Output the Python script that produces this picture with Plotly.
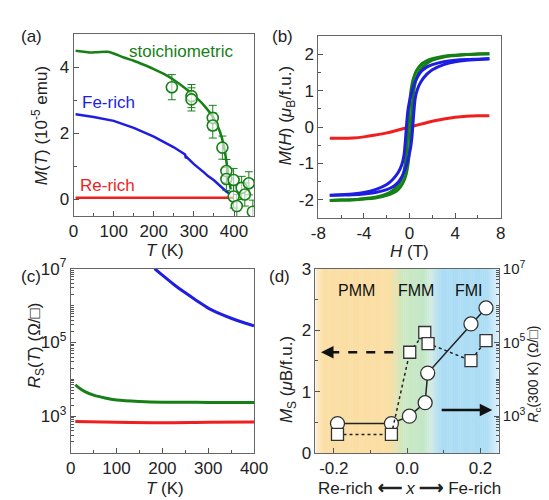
import plotly.graph_objects as go

F = "Liberation Sans, Arial, sans-serif"
W, H = 549, 500
GREEN = "rgb(22,128,22)"
BLUE = "rgb(30,30,225)"
RED = "rgb(240,30,30)"

# ---------------- Panel (a): M(T) ----------------
a_stoi_T = [5, 20, 40, 60, 85, 100, 125, 150, 175, 200, 225, 250, 275, 300, 325, 350, 365, 375, 383, 388, 392]
a_stoi_M = [4.5, 4.48, 4.45, 4.46, 4.47, 4.42, 4.3, 4.2, 4.08, 3.95, 3.8, 3.62, 3.4, 3.15, 2.85, 2.45, 2.05, 1.6, 1.0, 0.55, 0.3]
a_fe_T = [5, 50, 100, 150, 200, 250, 278, 280, 282, 300, 325, 336, 350, 368, 380, 390]
a_fe_M = [2.58, 2.5, 2.38, 2.17, 1.9, 1.58, 1.36, 1.25, 1.28, 1.07, 0.82, 0.7, 0.58, 0.38, 0.25, 0.17]
a_re_T = [5, 100, 200, 300, 400]
a_re_M = [0.05, 0.05, 0.05, 0.05, 0.05]
a_pts_T = [245, 294, 294, 347, 347, 371, 381, 381, 399, 399, 407, 419, 427, 437, 447]
a_pts_M = [3.40, 3.13, 3.03, 2.47, 2.24, 1.57, 0.86, 0.62, 0.59, 0.09, -0.2, 0.35, 0.15, 0.49, -0.37]
a_pts_err = [0.38, 0.35, 0.35, 0.38, 0.38, 0.35, 0.35, 0.35, 0.35, 0.35, 0.35, 0.35, 0.35, 0.35, 0.35]

# ---------------- Panel (b): M(H) ----------------
b_st_H_up = [-7, -6, -5, -4, -3, -2, -1.5, -1, -0.6, -0.3, -0.1, 0, 0.1, 0.2, 0.3, 0.45, 0.6, 0.8, 1, 1.5, 2, 3, 4, 5, 6, 7]
b_st_M_up = [-2.02, -2.01, -2.0, -1.98, -1.95, -1.88, -1.82, -1.72, -1.55, -1.3, -0.95, -0.6, -0.1, 0.4, 0.8, 1.15, 1.35, 1.5, 1.6, 1.75, 1.84, 1.93, 1.97, 2.0, 2.01, 2.02]
b_st_H_dn = [7, 6, 5, 4, 3, 2, 1.5, 1, 0.6, 0.3, 0.1, 0, -0.1, -0.2, -0.3, -0.45, -0.6, -0.8, -1, -1.5, -2, -3, -4, -5, -6, -7]
b_st_M_dn = [2.02, 2.01, 2.0, 1.98, 1.95, 1.88, 1.82, 1.72, 1.55, 1.3, 0.95, 0.6, 0.1, -0.4, -0.8, -1.15, -1.35, -1.5, -1.6, -1.75, -1.84, -1.93, -1.97, -2.0, -2.01, -2.02]
b_fe_H_up = [-7, -6, -5, -4, -3, -2, -1.5, -1, -0.7, -0.5, -0.3, -0.1, 0.1, 0.2, 0.3, 0.4, 0.5, 0.7, 1, 1.5, 2, 3, 4, 5, 6, 7]
b_fe_M_up = [-1.88, -1.87, -1.86, -1.84, -1.8, -1.72, -1.65, -1.52, -1.38, -1.25, -1.08, -0.85, -0.55, -0.3, 0.1, 0.5, 0.8, 1.05, 1.25, 1.45, 1.58, 1.72, 1.8, 1.84, 1.86, 1.88]
b_fe_H_dn = [7, 6, 5, 4, 3, 2, 1.5, 1, 0.7, 0.5, 0.3, 0.1, -0.1, -0.2, -0.3, -0.4, -0.5, -0.7, -1, -1.5, -2, -3, -4, -5, -6, -7]
b_fe_M_dn = [1.88, 1.87, 1.86, 1.84, 1.8, 1.72, 1.65, 1.52, 1.38, 1.25, 1.08, 0.85, 0.55, 0.3, -0.1, -0.5, -0.8, -1.05, -1.25, -1.45, -1.58, -1.72, -1.8, -1.84, -1.86, -1.88]
b_re_H = [-7, -6, -5, -4, -3, -2, -1, 0, 1, 2, 3, 4, 5, 6, 7]
b_re_M = [-0.31, -0.31, -0.3, -0.27, -0.22, -0.16, -0.08, 0.0, 0.08, 0.16, 0.22, 0.27, 0.3, 0.31, 0.31]

# ---------------- Panel (c): Rs(T) ----------------
c_fe_T = [183, 200, 225, 250, 275, 300, 325, 350, 375, 400]
c_fe_R = [1.0e7, 6.6e6, 3.7e6, 2.2e6, 1.35e6, 8.5e5, 6.0e5, 4.5e5, 3.5e5, 2.8e5]
c_st_T = [10, 20, 30, 50, 75, 100, 150, 200, 250, 300, 350, 400]
c_st_R = [7.1e3, 5.6e3, 4.7e3, 3.7e3, 3.1e3, 2.75e3, 2.5e3, 2.4e3, 2.4e3, 2.35e3, 2.35e3, 2.35e3]
c_re_T = [10, 100, 200, 300, 400]
c_re_R = [720, 680, 660, 680, 690]

# ---------------- Panel (d): Ms and Rs(300 K) vs x ----------------
d_x = [-0.19, -0.043, 0.006, 0.049, 0.056, 0.174, 0.215]
d_Ms = [0.48, 0.48, 0.6, 0.82, 1.3, 2.1, 2.36]
d_xs = [-0.19, -0.043, 0.007, 0.048, 0.057, 0.174, 0.215]
d_Rs = [320, 320, 5.4e4, 1.85e5, 9.3e4, 3.2e4, 1.12e5]
d_phases = ["PMM", "FMM", "FMI"]
d_phase_x = [-0.137, 0.025, 0.169]

TICK = 17


def px(x):
    return x / W


def py(y):
    return 1 - y / H


fig = go.Figure()

# (a)
fig.add_trace(go.Scatter(x=a_re_T, y=a_re_M, mode="lines", line=dict(color=RED, width=2.5), xaxis="x", yaxis="y"))
fig.add_trace(go.Scatter(x=a_fe_T, y=a_fe_M, mode="lines", line=dict(color=BLUE, width=2.5), xaxis="x", yaxis="y"))
fig.add_trace(go.Scatter(x=a_stoi_T, y=a_stoi_M, mode="lines", line=dict(color=GREEN, width=2.5, shape="spline", smoothing=0.6), xaxis="x", yaxis="y"))
fig.add_trace(go.Scatter(x=a_pts_T, y=a_pts_M, mode="markers",
                         marker=dict(symbol="circle", size=11, color="rgba(255,255,255,0.6)", line=dict(color=GREEN, width=1.6)),
                         error_y=dict(type="data", array=a_pts_err, color=GREEN, thickness=1, width=4),
                         xaxis="x", yaxis="y"))

# (b)
fig.add_trace(go.Scatter(x=b_re_H, y=b_re_M, mode="lines", line=dict(color=RED, width=3, shape="spline"), xaxis="x2", yaxis="y2"))
for hh, mm in ((b_st_H_up, b_st_M_up), (b_st_H_dn, b_st_M_dn)):
    fig.add_trace(go.Scatter(x=hh, y=mm, mode="lines", line=dict(color=GREEN, width=3, shape="spline"), xaxis="x2", yaxis="y2"))
for hh, mm in ((b_fe_H_up, b_fe_M_up), (b_fe_H_dn, b_fe_M_dn)):
    fig.add_trace(go.Scatter(x=hh, y=mm, mode="lines", line=dict(color=BLUE, width=3, shape="spline"), xaxis="x2", yaxis="y2"))

# (c)
fig.add_trace(go.Scatter(x=c_fe_T, y=c_fe_R, mode="lines", line=dict(color=BLUE, width=3, shape="spline"), xaxis="x3", yaxis="y3"))
fig.add_trace(go.Scatter(x=c_st_T, y=c_st_R, mode="lines", line=dict(color=GREEN, width=3, shape="spline"), xaxis="x3", yaxis="y3"))
fig.add_trace(go.Scatter(x=c_re_T, y=c_re_R, mode="lines", line=dict(color=RED, width=3, shape="spline"), xaxis="x3", yaxis="y3"))

# (d)
fig.add_trace(go.Scatter(x=d_xs, y=d_Rs, mode="lines+markers", line=dict(color="#222", width=1.5, dash="dot"),
                         marker=dict(symbol="square", size=12, color="white", line=dict(color="#333", width=1.3)),
                         xaxis="x4", yaxis="y5"))
fig.add_trace(go.Scatter(x=d_x, y=d_Ms, mode="lines+markers", line=dict(color="#222", width=1.5),
                         marker=dict(symbol="circle", size=14, color="white", line=dict(color="#333", width=1.3)),
                         xaxis="x4", yaxis="y4"))
# dashed arrow shaft
fig.add_trace(go.Scatter(x=[-0.038, -0.215], y=[1.64, 1.64], mode="lines", line=dict(color="#111", width=2.5, dash="dash"),
                         xaxis="x4", yaxis="y4"))

# gradient bands (d)
stops = [(-0.25, (253, 236, 204)), (-0.225, (251, 222, 163)), (-0.05, (251, 222, 163)), (-0.01, (204, 232, 194)),
         (0.045, (194, 231, 198)), (0.065, (212, 235, 228)), (0.09, (172, 221, 245)), (0.215, (172, 221, 245)),
         (0.25, (220, 240, 250))]


def col_at(x):
    for (x0, c0), (x1, c1) in zip(stops[:-1], stops[1:]):
        if x0 <= x <= x1:
            t = (x - x0) / (x1 - x0)
            return "rgb(%d,%d,%d)" % tuple(round(c0[i] + t * (c1[i] - c0[i])) for i in range(3))
    return "rgb(%d,%d,%d)" % stops[-1][1]


shapes = []
N = 100
for i in range(N):
    x0 = -0.25 + 0.5 * i / N
    x1 = -0.25 + 0.5 * (i + 1) / N
    shapes.append(dict(type="rect", xref="x4", yref="y4", x0=x0, x1=x1 + 0.001, y0=0, y1=3,
                       fillcolor=col_at((x0 + x1) / 2), line=dict(width=0), layer="below"))

ax_common = dict(showline=True, linecolor="#666", linewidth=1, mirror=True, ticks="inside", ticklen=5,
                 tickcolor="#555", tickfont=dict(family=F, size=TICK, color="#222"), showgrid=False, zeroline=False)


def minor(dt, t0=0):
    return dict(ticks="inside", ticklen=3, dtick=dt, tick0=t0, tickcolor="#555", showgrid=False)


log_minor = [m * 10 ** k for k in range(2, 7) for m in range(1, 10) if not (m == 1 and k % 2 == 1)]
log_major = [1e3, 1e5, 1e7]
log_text = ["10<sup>3</sup>", "10<sup>5</sup>", "10<sup>7</sup>"]

layout = dict(
    width=W, height=H, margin=dict(l=0, r=0, t=0, b=0), paper_bgcolor="white", plot_bgcolor="white",
    showlegend=False, font=dict(family=F, size=TICK, color="#222"),
    xaxis=dict(ax_common, domain=[px(60), px(248)], range=[0, 450], tickvals=[0, 100, 200, 300, 400], minor=minor(50), anchor="y"),
    yaxis=dict(ax_common, domain=[py(205), py(15)], range=[-0.5, 5.0], tickvals=[0, 2, 4], minor=minor(1), anchor="x"),
    xaxis2=dict(ax_common, domain=[px(315), px(505)], range=[-8, 8], tickvals=[-8, -4, 0, 4, 8],
                ticktext=["-8", "-4", "0", "4", "8"], minor=minor(2), anchor="y2"),
    yaxis2=dict(ax_common, domain=[py(207), py(17)], range=[-2.5, 2.5], tickvals=[-2, -1, 0, 1, 2],
                ticktext=["-2", "-1", "0", "1", "2"], minor=minor(0.5), anchor="x2"),
    xaxis3=dict(ax_common, domain=[px(57), px(248)], range=[0, 400], tickvals=[0, 100, 200, 300, 400], minor=minor(50), anchor="y3"),
    yaxis3=dict(ax_common, type="log", domain=[py(453), py(260)], range=[2, 7], tickvals=log_major, ticktext=log_text,
                minor=dict(ticks="inside", ticklen=3, tickvals=log_minor, tickcolor="#555"), anchor="x3"),
    xaxis4=dict(ax_common, domain=[px(312), px(503)], range=[-0.25, 0.25], tickvals=[-0.2, 0.0, 0.2],
                ticktext=["-0.2", "0.0", "0.2"], minor=minor(0.1, -0.2), anchor="y4"),
    yaxis4=dict(ax_common, domain=[py(453), py(260)], range=[0, 3], tickvals=[0, 1, 2, 3], minor=minor(0.5), anchor="x4"),
    yaxis5=dict(ax_common, type="log", overlaying="y4", side="right", anchor="x4", range=[2, 7], tickvals=log_major,
                ticktext=log_text, tickfont=dict(family=F, size=15, color="#222"),
                minor=dict(ticks="inside", ticklen=3, tickvals=log_minor, tickcolor="#555"), mirror=False),
    shapes=shapes,
)
fig.update_layout(**layout)

ann = []


def txt(x, y, s, size=17, color="#222", angle=0, xanchor="center"):
    ann.append(dict(x=px(x), y=py(y), xref="paper", yref="paper", text=s, showarrow=False, textangle=angle,
                    font=dict(family=F, size=size, color=color), xanchor=xanchor, yanchor="middle"))


# panel labels
txt(16, 17, "(a)", 17)
txt(278, 17, "(b)", 17)
txt(16, 268, "(c)", 17)
txt(274, 268, "(d)", 17)
# axis titles
txt(25, 110, "<i>M</i>(<i>T</i>) (10<sup>-5</sup> emu)", 17, angle=-90)
txt(155, 241, "<i>T</i> (K)", 17)
txt(282, 100, "<i>M</i>(<i>H</i>) (<i>μ</i><sub>B</sub>/f.u.)", 17, angle=-90)
txt(410, 242, "<i>H</i> (T)", 17)
txt(21, 340, "<i>R</i><sub>S</sub>(<i>T</i>) (Ω/□)", 17, angle=-90)
txt(155, 490, "<i>T</i> (K)", 17)
txt(284, 376, "<i>M</i><sub>S</sub> (<i>μ</i>B/f.u.)", 17, angle=-90)
txt(539.5, 370, "<i>R</i><sub>c</sub>(300 K) (Ω/□)", 14, angle=-90)
txt(410, 490, "Re-rich <b>⟵</b> <i>x</i> <b>⟶</b> Fe-rich", 17)
# series labels in (a)
txt(172, 33, "stoichiometric", 17, GREEN)
txt(96, 86, "Fe-rich", 17, BLUE)
txt(95, 173, "Re-rich", 17, RED)
fig.update_layout(annotations=ann)

# phase labels and arrow heads in (d)
for name, xp in zip(d_phases, d_phase_x):
    fig.add_annotation(x=xp, y=2.65, xref="x4", yref="y4", text=name, showarrow=False,
                       font=dict(family=F, size=16, color="#111"))
fig.add_annotation(x=-0.235, y=1.64, ax=-0.2, ay=1.64, xref="x4", yref="y4", axref="x4", ayref="y4", text="",
                   showarrow=True, arrowhead=2, arrowsize=1, arrowwidth=2.5, arrowcolor="#111")
fig.add_annotation(x=0.232, y=0.7, ax=0.09, ay=0.7, xref="x4", yref="y4", axref="x4", ayref="y4", text="",
                   showarrow=True, arrowhead=2, arrowsize=1, arrowwidth=2.5, arrowcolor="#111")

fig.write_html("out.html")
